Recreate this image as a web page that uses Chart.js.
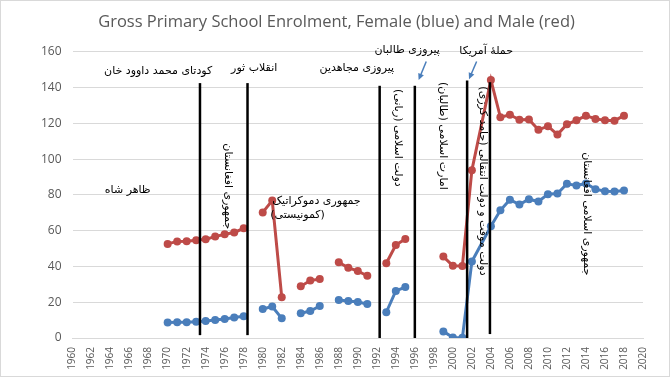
<!DOCTYPE html>
<html>
<head>
<meta charset="utf-8">
<script src="https://cdn.jsdelivr.net/npm/chart.js@4/dist/chart.umd.min.js"></script>
<style>
  body { margin: 0; background: #fff; }
  #wrap { width: 670px; height: 377px; position: relative; }
</style>
</head>
<body>
<div id="wrap"><canvas id="plot"></canvas></div>
<script>
// years 1960..2020 on a category axis
const years = [];
for (let y = 1960; y <= 2020; y++) years.push(String(y));

// gross primary enrolment, by year (missing years = no data)
const femaleByYear = {
  1970: 8.6, 1971: 8.8, 1972: 8.8, 1973: 9.1, 1974: 9.5, 1975: 10.0, 1976: 10.6, 1977: 11.5, 1978: 12.2,
  1980: 16.2, 1981: 17.6, 1982: 11.0,
  1984: 13.8, 1985: 15.1, 1986: 17.9,
  1988: 21.2, 1989: 20.7, 1990: 20.1, 1991: 19.0,
  1993: 14.4, 1994: 26.3, 1995: 28.5,
  1999: 3.7, 2000: 0.3, 2001: 0.1, 2002: 42.8,
  2004: 62.5, 2005: 71.4, 2006: 77.3, 2007: 74.6, 2008: 77.6, 2009: 76.3, 2010: 80.4, 2011: 80.8,
  2012: 86.2, 2013: 85.3, 2014: 86.4, 2015: 83.2, 2016: 82.1, 2017: 81.9, 2018: 82.4
};
const maleByYear = {
  1970: 52.6, 1971: 54.0, 1972: 54.1, 1973: 54.6, 1974: 55.2, 1975: 56.7, 1976: 58.0, 1977: 59.0, 1978: 61.3,
  1980: 70.2, 1981: 76.8, 1982: 22.8,
  1984: 28.9, 1985: 32.1, 1986: 33.0,
  1988: 42.3, 1989: 39.3, 1990: 37.4, 1991: 34.8,
  1993: 41.8, 1994: 52.0, 1995: 55.4,
  1999: 45.5, 2000: 40.4, 2001: 40.3, 2002: 93.8,
  2004: 144.3, 2005: 123.4, 2006: 124.8, 2007: 122.0, 2008: 122.2, 2009: 116.4, 2010: 118.4, 2011: 113.7,
  2012: 119.5, 2013: 121.7, 2014: 124.3, 2015: 122.5, 2016: 121.7, 2017: 121.5, 2018: 124.3
};
const female = years.map(y => femaleByYear[y] ?? null);
const male = years.map(y => maleByYear[y] ?? null);

// the one missing year that the original line still bridges
const bridgedYear = '2003';

// regime boundary lines: year, top value, bottom value
const vlineYears = [1973.4, 1978.4, 1992.3, 1996.0, 2001.5, 2003.9];
const vlineTops = [142.5, 142.5, 141, 141, 144, 143];
const vlineBottoms = [1.6, 1.6, 0, 0, 0, 2.2];

// blue arrows: [year, value] from -> to
const arrows = [
  [[1997.2, 154.6], [1996.4, 144.3]],
  [[2002.5, 154.6], [2001.7, 144.7]]
];

// horizontal labels: text, year, value, align
const labelsFlat = [
  ['کودتای محمد داوود خان', 1969.0, 149.2, 'center'],
  ['انقلاب ثور', 1979.1, 150.6, 'center'],
  ['پیروزی مجاهدین', 1989.9, 150.6, 'center'],
  ['پیروزی طالبان', 1995.2, 161.0, 'center'],
  ['حملهٔ آمریکا', 2003.5, 160.2, 'center'],
  ['ظاهر شاه', 1965.8, 82.8, 'center'],
  ['جمهوری دموکراتیک', 1981.0, 76.6, 'left'],
  ['(کمونیستی)', 1980.8, 68.6, 'left']
];
// vertical labels (read top to bottom): text, year, value of centre
const labelsVertical = [
  ['جمهوری افغانستان', 1976.3, 84.8],
  ['دولت اسلامی (ربانی)', 1994.2, 111.9],
  ['امارت اسلامی (طالبان)', 1998.9, 113.0],
  ['دولت موقت و دولت انتقالی (حامد کرزی)', 2003.2, 87.8],
  ['جمهوری اسلامی افغانستان', 2014.1, 69.4]
];

const persianFont = '11px "DejaVu Sans"';

const annotate = {
  id: 'annotate',
  afterDatasetsDraw(chart) {
    const { ctx, scales: { x, y } } = chart;
    const px = yr => x.getPixelForValue(yr - 1960);
    ctx.save();
    // vertical lines
    ctx.strokeStyle = '#000';
    ctx.lineWidth = 2.5;
    vlineYears.forEach((yr, i) => {
      ctx.beginPath();
      ctx.moveTo(px(yr), y.getPixelForValue(vlineTops[i]));
      ctx.lineTo(px(yr), y.getPixelForValue(vlineBottoms[i]));
      ctx.stroke();
    });
    // arrows
    ctx.strokeStyle = '#4a7ebb';
    ctx.fillStyle = '#4a7ebb';
    ctx.lineWidth = 1.5;
    arrows.forEach(([a, b]) => {
      const x0 = px(a[0]), y0 = y.getPixelForValue(a[1]);
      const x1 = px(b[0]), y1 = y.getPixelForValue(b[1]);
      const ang = Math.atan2(y1 - y0, x1 - x0);
      ctx.beginPath();
      ctx.moveTo(x0, y0);
      ctx.lineTo(x1 - 4 * Math.cos(ang), y1 - 4 * Math.sin(ang));
      ctx.stroke();
      ctx.beginPath();
      ctx.moveTo(x1, y1);
      ctx.lineTo(x1 - 7 * Math.cos(ang - 0.45), y1 - 7 * Math.sin(ang - 0.45));
      ctx.lineTo(x1 - 7 * Math.cos(ang + 0.45), y1 - 7 * Math.sin(ang + 0.45));
      ctx.closePath();
      ctx.fill();
    });
    // texts
    ctx.fillStyle = '#000';
    ctx.font = persianFont;
    ctx.textBaseline = 'middle';
    ctx.direction = 'rtl';
    labelsFlat.forEach(([t, yr, v, align]) => {
      ctx.textAlign = align;
      ctx.fillText(t, px(yr), y.getPixelForValue(v));
    });
    ctx.textAlign = 'center';
    labelsVertical.forEach(([t, yr, v]) => {
      ctx.save();
      ctx.translate(px(yr), y.getPixelForValue(v));
      ctx.rotate(Math.PI / 2);
      ctx.fillText(t, 0, 0);
      ctx.restore();
    });
    // outer border
    ctx.direction = 'ltr';
    ctx.strokeStyle = '#d9d9d9';
    ctx.lineWidth = 1;
    ctx.strokeRect(0.5, 0.5, chart.width - 1, chart.height - 1);
    ctx.restore();
  }
};

// hide segments that touch a missing year, except the bridged one
const gapStyle = ctx => {
  if (!(ctx.p0.skip || ctx.p1.skip)) return undefined;
  const b = years.indexOf(bridgedYear);
  if (ctx.p0DataIndex === b || ctx.p1DataIndex === b) return undefined;
  return 'rgba(0,0,0,0)';
};

new Chart(document.getElementById('plot'), {
  type: 'line',
  data: {
    labels: years,
    datasets: [{
      label: 'Female',
      data: female,
      borderColor: '#4a7ebb',
      backgroundColor: '#4a7ebb',
      borderWidth: 3,
      pointRadius: 4,
      pointBorderWidth: 0,
      spanGaps: true,
      segment: { borderColor: gapStyle }
    }, {
      label: 'Male',
      data: male,
      borderColor: '#be4b48',
      backgroundColor: '#be4b48',
      borderWidth: 3,
      pointRadius: 4,
      pointBorderWidth: 0,
      spanGaps: true,
      segment: { borderColor: gapStyle }
    }]
  },
  options: {
    responsive: true,
    maintainAspectRatio: false,
    animation: false,
    layout: { padding: { top: 12, left: 30, right: 27, bottom: 7 } },
    plugins: {
      legend: { display: false },
      tooltip: { enabled: false },
      title: {
        display: true,
        text: 'Gross Primary School Enrolment, Female (blue) and Male (red)',
        color: '#595959',
        font: { family: '"Open Sans"', size: 16.5, weight: 'normal' },
        padding: { top: 0, bottom: 20 }
      }
    },
    scales: {
      x: {
        afterFit: s => { s.height = 32; },
        grid: { display: false, drawTicks: false },
        border: { color: '#d9d9d9' },
        ticks: {
          autoSkip: false,
          maxRotation: 90,
          minRotation: 90,
          padding: 9,
          color: '#595959',
          font: { family: '"Open Sans"', size: 10 },
          callback: (v, i) => (i % 2 === 0 ? years[i] : '')
        }
      },
      y: {
        min: 0,
        max: 160,
        grid: { color: '#d9d9d9', drawTicks: false },
        border: { display: false },
        ticks: {
          stepSize: 20,
          padding: 11,
          color: '#595959',
          font: { family: '"Open Sans"', size: 12 }
        }
      }
    }
  },
  plugins: [annotate]
});
</script>
</body>
</html>
